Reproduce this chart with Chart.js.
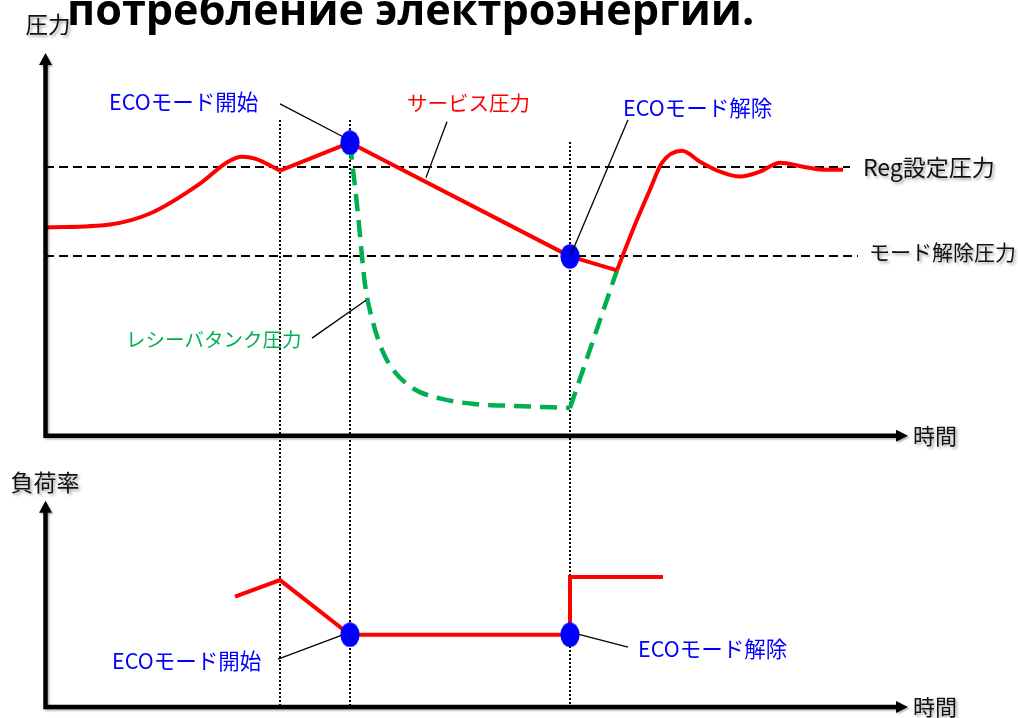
<!DOCTYPE html>
<html>
<head>
<meta charset="utf-8">
<script src="https://cdn.jsdelivr.net/npm/chart.js@4.4.1/dist/chart.umd.min.js"></script>
<style>
  html, body { margin: 0; padding: 0; background: #fff; overflow: hidden; }
  canvas { display: block; }
</style>
</head>
<body>
<canvas id="c" width="1018" height="718"></canvas>
<script>
// ---- data (time in arbitrary units, pressure / load in arbitrary units) ----

// service pressure (サービス圧力): start-up with overshoot
const svcStartT = [0, 6.5, 10.5, 15.5, 18.3, 19.7, 21.0, 23.5];
const svcStartP = [20.9, 21.2, 22.3, 25.3, 27.5, 28.0, 27.8, 26.6];
// service pressure: rise to ECO start, then linear fall during ECO mode
const svcEcoT = [23.5, 30.5, 52.5, 57.2];
const svcEcoP = [26.6, 29.4, 18.0, 16.6];
// service pressure: recovery after ECO mode release
const svcRecT = [57.2, 58.8, 60.5, 61.7, 63.7, 65.5, 67.5, 69.5, 71.5, 73.5, 75.8, 77.8, 79.8];
const svcRecP = [16.6, 20.7, 24.7, 27.4, 28.6, 27.5, 26.5, 26.0, 26.5, 27.4, 27.0, 26.7, 26.7];

// receiver tank pressure (レシーバタンク圧力)
const tankDropT = [30.5, 31.3, 32.0, 32.8, 33.8, 35.0, 36.9, 39.7, 42.9, 46.8, 52.5];
const tankDropP = [29.4, 22.2, 15.2, 11.4, 8.4, 6.4, 4.7, 3.7, 3.2, 3.0, 2.8];
const tankRecT = [52.5, 57.2];
const tankRecP = [2.8, 16.6];

// load ratio (負荷率)
const loadT = [19.0, 23.5, 30.5, 52.5, 52.5, 61.8];
const loadV = [53.5, 61.5, 35.0, 35.0, 63.0, 63.0];

// events
const ecoStartT = 30.5;
const ecoEndT = 52.5;
const loadPeakT = 23.5;

// reference pressure levels
const regPressure = 27.0;      // Reg設定圧力
const releasePressure = 18.0;  // モード解除圧力

// ---- helpers ----
const pts = (ts, vs) => ts.map((t, i) => ({ x: t, y: vs[i] }));

const dotImg = (() => {
  const c = document.createElement('canvas');
  c.width = 20; c.height = 25;
  const g = c.getContext('2d');
  g.fillStyle = '#0000FF';
  g.beginPath();
  g.ellipse(10, 12.5, 9.6, 12.2, 0, 0, Math.PI * 2);
  g.fill();
  return c;
})();

const RED = '#FF0000', GREEN = '#00B050', BLUE = '#0000FF', INK = '#111111';
const JP = '"Noto Sans CJK JP", "Noto Sans", sans-serif';

// annotation texts: [text, colour, size, t, value, axis, shadow]
const labels = [
  ['ECOモード開始', BLUE, 21.5, 6.4, 33.5, 'p', false],
  ['サービス圧力', RED, 20.5, 36.2, 33.4, 'p', false],
  ['ECOモード解除', BLUE, 21.5, 57.8, 32.9, 'p', false],
  ['レシーバタンク圧力', GREEN, 19.5, 8.1, 9.7, 'p', false],
  ['Reg設定圧力', INK, 23, 81.8, 26.9, 'p', true],
  ['モード解除圧力', INK, 21, 82.4, 18.4, 'p', true],
  ['時間', INK, 22, 86.8, 0, 'p', true],
  ['ECOモード開始', BLUE, 21.5, 6.7, 22.2, 'l', false],
  ['ECOモード解除', BLUE, 21.5, 59.3, 28.0, 'l', false],
  ['時間', INK, 22, 86.8, 0, 'l', true]
];

// leader lines: [t1, v1, t2, v2, axis]
const leaders = [
  [23.5, 33.3, 29.8, 30.0, 'p'],
  [40.2, 31.5, 38.1, 25.9, 'p'],
  [58.3, 31.7, 52.6, 18.2, 'p'],
  [26.7, 9.8, 32.1, 13.6, 'p'],
  [23.3, 23.2, 29.7, 34.8, 'l'],
  [53.3, 35.3, 58.3, 29.0, 'l']
];

// dotted event markers: [t, top pressure]
const markers = [[loadPeakT, 31.7], [ecoStartT, 31.7], [ecoEndT, 29.5]];

const shadowOn = (ctx) => {
  ctx.shadowColor = 'rgba(0,0,0,0.35)';
  ctx.shadowBlur = 3;
  ctx.shadowOffsetX = 2;
  ctx.shadowOffsetY = 2;
};

const diagram = {
  id: 'diagram',
  beforeDatasetsDraw(chart) {
    const { ctx, scales: { x, p, l } } = chart;
    ctx.save();
    ctx.strokeStyle = '#000';
    // reference pressure levels
    ctx.lineWidth = 2;
    ctx.setLineDash([9, 5]);
    [[regPressure, 80.5], [releasePressure, 81.3]].forEach(([v, tEnd]) => {
      const y = Math.round(p.getPixelForValue(v));
      ctx.beginPath();
      ctx.moveTo(x.getPixelForValue(0), y);
      ctx.lineTo(x.getPixelForValue(tEnd), y);
      ctx.stroke();
    });
    // event markers
    ctx.lineWidth = 2;
    ctx.setLineDash([2, 2]);
    markers.forEach(([t, top]) => {
      const px = Math.round(x.getPixelForValue(t));
      ctx.beginPath();
      ctx.moveTo(px, Math.round(p.getPixelForValue(top)));
      ctx.lineTo(px, l.getPixelForValue(0));
      ctx.stroke();
    });
    ctx.restore();
  },
  afterDatasetsDraw(chart) {
    const { ctx, chartArea: a, scales: { x, p, l } } = chart;
    ctx.save();
    // axes with arrowheads
    ctx.shadowColor = 'rgba(0,0,0,0.3)';
    ctx.shadowBlur = 2;
    ctx.shadowOffsetX = 1.5;
    ctx.shadowOffsetY = 1.5;
    ctx.fillStyle = '#000';
    ctx.strokeStyle = '#000';
    ctx.lineWidth = 4.5;
    const x0 = x.getPixelForValue(0) + 0.5;
    const drawAxes = (y0, yTip) => {
      ctx.beginPath();
      ctx.moveTo(x0, yTip + 11);
      ctx.lineTo(x0, y0);
      ctx.lineTo(a.right - 11, y0);
      ctx.stroke();
      ctx.beginPath();
      ctx.moveTo(x0, yTip);
      ctx.lineTo(x0 - 6.5, yTip + 12);
      ctx.lineTo(x0 + 6.5, yTip + 12);
      ctx.closePath();
      ctx.fill();
      ctx.beginPath();
      ctx.moveTo(a.right, y0);
      ctx.lineTo(a.right - 12, y0 - 6);
      ctx.lineTo(a.right - 12, y0 + 6);
      ctx.closePath();
      ctx.fill();
    };
    drawAxes(p.getPixelForValue(0), a.top);
    drawAxes(l.getPixelForValue(0), l.getPixelForValue(100));
    ctx.restore();

    // leader lines
    ctx.save();
    ctx.strokeStyle = '#000';
    ctx.lineWidth = 1.3;
    leaders.forEach(([t1, v1, t2, v2, ax]) => {
      const s = chart.scales[ax];
      ctx.beginPath();
      ctx.moveTo(x.getPixelForValue(t1), s.getPixelForValue(v1));
      ctx.lineTo(x.getPixelForValue(t2), s.getPixelForValue(v2));
      ctx.stroke();
    });
    ctx.restore();

    // annotation texts
    ctx.save();
    ctx.textBaseline = 'middle';
    ctx.textAlign = 'left';
    labels.forEach(([txt, col, size, t, v, ax, shadow]) => {
      const s = chart.scales[ax];
      ctx.font = size + 'px ' + JP;
      ctx.fillStyle = col;
      if (shadow) shadowOn(ctx); else ctx.shadowColor = 'transparent';
      ctx.fillText(txt, x.getPixelForValue(t), s.getPixelForValue(v));
    });
    // axis names
    shadowOn(ctx);
    ctx.fillStyle = INK;
    ctx.textAlign = 'center';
    ctx.font = '22.5px ' + JP;
    ctx.fillText('圧力', x.getPixelForValue(0) + 3, 24);
    ctx.font = '23px ' + JP;
    ctx.fillText('負荷率', x.getPixelForValue(0), 482);
    ctx.restore();

    // heading, fitted to its span
    ctx.save();
    ctx.fillStyle = '#000';
    ctx.textAlign = 'left';
    ctx.textBaseline = 'alphabetic';
    const heading = 'потребление электроэнергии.';
    ctx.font = 'bold 40px "Open Sans", sans-serif';
    const size = 40 * 688 / ctx.measureText(heading).width;
    ctx.font = 'bold ' + size.toFixed(1) + 'px "Open Sans", sans-serif';
    ctx.fillText(heading, 67, 25);
    ctx.restore();
  }
};

const lineDs = (data, color, extra) => Object.assign({
  data, showLine: true, borderColor: color, borderWidth: 4,
  pointRadius: 0, yAxisID: 'p', fill: false,
  borderCapStyle: 'butt', borderJoinStyle: 'round'
}, extra);

new Chart(document.getElementById('c'), {
  type: 'scatter',
  data: {
    datasets: [
      // ECO start / release marks
      { data: [{ x: ecoStartT, y: 29.4 }, { x: ecoEndT, y: releasePressure }], yAxisID: 'p',
        pointStyle: dotImg, pointRadius: 10 },
      { data: [{ x: ecoStartT, y: loadV[2] }, { x: ecoEndT, y: loadV[3] }], yAxisID: 'l',
        pointStyle: dotImg, pointRadius: 10 },
      // service pressure
      lineDs(pts(svcStartT, svcStartP), RED, { cubicInterpolationMode: 'monotone' }),
      lineDs(pts(svcEcoT, svcEcoP), RED, { tension: 0 }),
      lineDs(pts(svcRecT, svcRecP), RED, { cubicInterpolationMode: 'monotone' }),
      // load ratio
      lineDs(pts(loadT, loadV), RED, { tension: 0, yAxisID: 'l', borderJoinStyle: 'miter' }),
      // receiver tank pressure
      lineDs(pts(tankDropT, tankDropP), GREEN, { cubicInterpolationMode: 'monotone', borderWidth: 4.5, borderDash: [17, 9] }),
      lineDs(pts(tankRecT, tankRecP), GREEN, { tension: 0, borderWidth: 4.5, borderDash: [17, 9] })
    ]
  },
  options: {
    responsive: false,
    devicePixelRatio: 1,
    animation: false,
    events: [],
    layout: { padding: { left: 45, right: 110, top: 53, bottom: 9 } },
    plugins: { legend: { display: false }, tooltip: { enabled: false } },
    scales: {
      x: { type: 'linear', display: false, min: 0, max: 86.3 },
      p: { type: 'linear', display: false, position: 'left', min: -27.2, max: 38.4 },
      l: { type: 'linear', display: false, position: 'right', min: 0, max: 316.9 }
    }
  },
  plugins: [diagram]
});
</script>
</body>
</html>
